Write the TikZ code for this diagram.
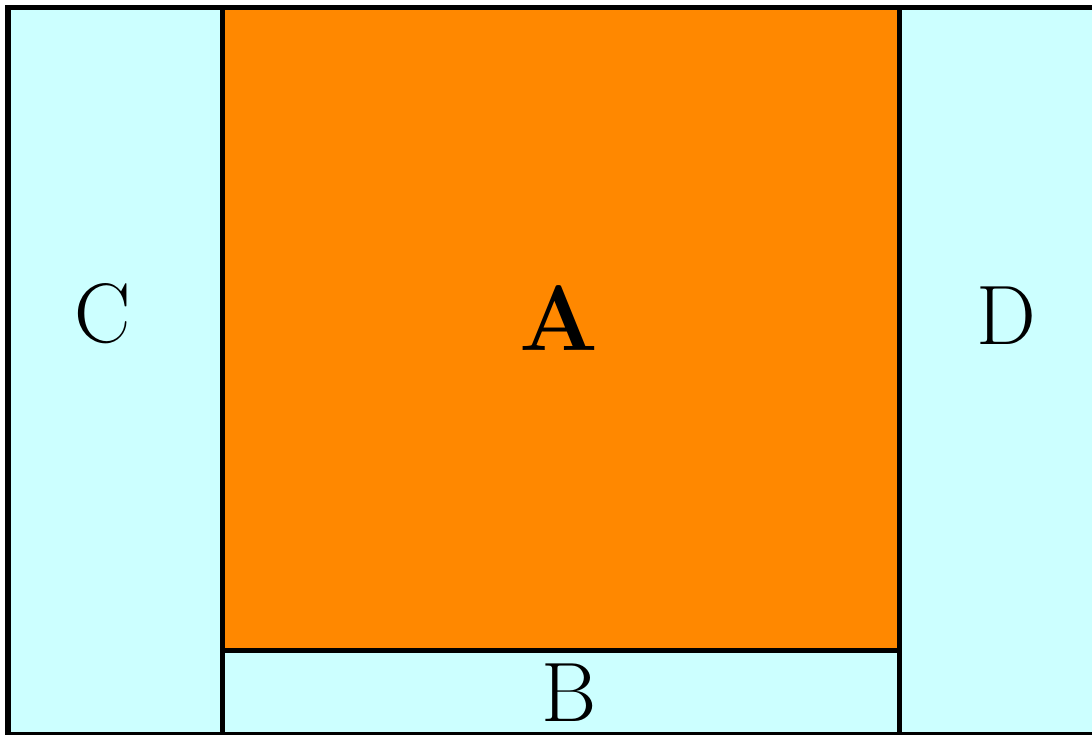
\documentclass[tikz,border=0pt]{standalone}
\usepackage{xcolor}
\usepackage{tikz}
\usetikzlibrary{positioning}
\definecolor{cellcyan}{RGB}{204,255,255}
\definecolor{cellorange}{RGB}{255,136,0}
\begin{document}
\begin{tikzpicture}[
  x=0.025cm, y=0.025cm,
  region/.style={draw=black, line width=1.25mm},
  lbl/.style={inner sep=0pt, font=\fontsize{60}{60}\selectfont},
  biglbl/.style={lbl, font=\fontsize{66}{66}\selectfont\bfseries},
]
  \useasboundingbox (0,0) rectangle (1092,735);
  \clip (0,0) rectangle (1092,735);
  % the four cells
  \draw[region, fill=cellcyan]   (8,0)     rectangle (222.5,727);
  \draw[region, fill=cellorange] (222.5,84) rectangle (899,727);
  \draw[region, fill=cellcyan]   (222.5,0) rectangle (899,84);
  \draw[region, fill=cellcyan]   (899,0)   rectangle (1100,727);
  % labels
  \node[lbl]    (c) at (103,421)   {C};
  \node[biglbl] (a) at (558.5,417) {A};
  \node[lbl]    (d) at (1006,419)  {D};
  \node[lbl]    (b) at (569,42)    {B};
\end{tikzpicture}
\end{document}
